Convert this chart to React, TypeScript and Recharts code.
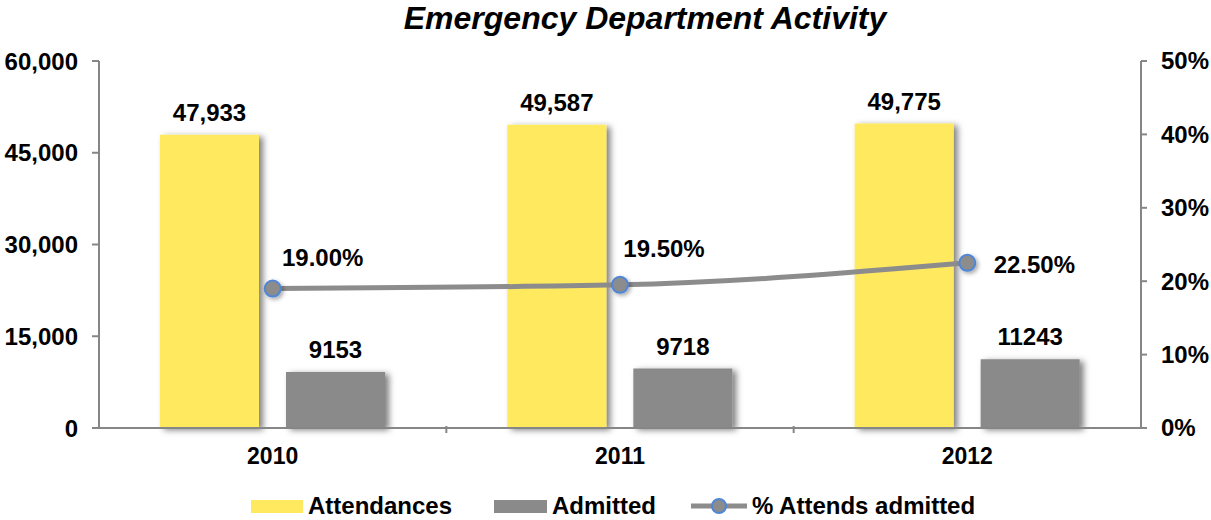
import React from 'react';
import { ComposedChart, Bar, Line, XAxis, YAxis, LabelList } from 'recharts';

const years = ['2010', '2011', '2012'];
const attendances = [47933, 49587, 49775];
const admitted = [9153, 9718, 11243];
const pctAdmitted = [19.0, 19.5, 22.5];
const leftTicks = [0, 15000, 30000, 45000, 60000];
const rightTicks = [0, 10, 20, 30, 40, 50];

const data = years.map((year, i) => ({
  year,
  attendances: attendances[i],
  admitted: admitted[i],
  pct: pctAdmitted[i],
}));

const FONT = '"Liberation Sans", Arial, sans-serif';
const AXIS_GREY = '#868686';
const YELLOW = '#ffe95f';
const BAR_GREY = '#8a8a8a';
const LINE_GREY = '#8c8c8c';
const DOT_BLUE = '#4f86d6';

const PLOT_LEFT = 99;
const PLOT_RIGHT = 1141;
const BAND = (PLOT_RIGHT - PLOT_LEFT) / years.length;

// where each % label sits relative to its point
const pctLabelShift = [
  { dx: 50, dy: -31 },
  { dx: 44, dy: -36 },
  { dx: 67, dy: 2 },
];

const YearTick = (props: any) => {
  const { x, y, payload, index } = props;
  return (
    <g>
      {index < years.length - 1 && (
        <line x1={x + BAND / 2} x2={x + BAND / 2} y1={y - 10} y2={y - 3} stroke={AXIS_GREY} strokeWidth={2} />
      )}
      <text x={x} y={y + 28} textAnchor="middle" fontFamily={FONT} fontWeight="bold" fontSize={23} fill="#000">
        {payload.value}
      </text>
    </g>
  );
};

const PctLabel = (props: any) => {
  const { x, y, value, index } = props;
  const s = pctLabelShift[index] || { dx: 0, dy: -20 };
  return (
    <text
      x={x + s.dx}
      y={y + s.dy}
      textAnchor="middle"
      dominantBaseline="central"
      fontFamily={FONT}
      fontWeight="bold"
      fontSize={24}
      fill="#000"
    >
      {Number(value).toFixed(2)}%
    </text>
  );
};

// right axis labels sit a little clear of the tick marks
const RightTick = (props: any) => {
  const { y, payload } = props;
  return (
    <text x={PLOT_RIGHT + 20} y={y} dy="0.35em" textAnchor="start" fontFamily={FONT} fontWeight="bold" fontSize={24} fill="#000">
      {payload.value}%
    </text>
  );
};

const LegendItem = ({ left, children, label }: { left: number; children: React.ReactNode; label: string }) => (
  <div style={{ position: 'absolute', left, top: 0, height: 30, display: 'flex', alignItems: 'center' }}>
    {children}
    <span style={{ marginLeft: 5 }}>{label}</span>
  </div>
);

export default function App() {
  const tickStyle = { fontFamily: FONT, fontWeight: 'bold' as const, fontSize: 24, fill: '#000' };
  const labelStyle = { fontFamily: FONT, fontWeight: 'bold', fontSize: 24, fill: '#000' };
  return (
    <div style={{ position: 'absolute', left: 0, top: 0, width: 1211, height: 520, background: '#fff', fontFamily: FONT }}>
      <div
        style={{
          position: 'absolute',
          top: 0,
          left: 0,
          width: 1290,
          textAlign: 'center',
          fontSize: 32,
          fontWeight: 'bold',
          fontStyle: 'italic',
          lineHeight: '36px',
        }}
      >
        Emergency Department Activity
      </div>
      <ComposedChart
        width={1211}
        height={520}
        data={data}
        margin={{ top: 61, right: 0, left: 0, bottom: 42 }}
        barSize={99}
        barGap={27}
      >
        <defs>
          <filter id="barShadow" x="-10%" y="-10%" width="130%" height="130%">
            <feDropShadow dx={4} dy={2} stdDeviation={3} floodColor="#000" floodOpacity={0.5} />
          </filter>
          <filter id="dotShadow" x="-50%" y="-50%" width="200%" height="200%">
            <feDropShadow dx={2} dy={2} stdDeviation={2} floodColor="#000" floodOpacity={0.35} />
          </filter>
        </defs>
        <XAxis
          dataKey="year"
          height={50}
          axisLine={{ stroke: AXIS_GREY, strokeWidth: 2 }}
          tickLine={false}
          tick={<YearTick />}
          interval={0}
        />
        <YAxis
          yAxisId="left"
          width={99}
          domain={[0, 60000]}
          ticks={leftTicks}
          tickFormatter={(v: number) => v.toLocaleString('en-US')}
          axisLine={{ stroke: AXIS_GREY, strokeWidth: 2 }}
          tickLine={{ stroke: AXIS_GREY, strokeWidth: 2 }}
          tickSize={7}
          tickMargin={14}
          tick={tickStyle}
        />
        <YAxis
          yAxisId="right"
          orientation="right"
          width={70}
          domain={[0, 50]}
          ticks={rightTicks}
          axisLine={{ stroke: AXIS_GREY, strokeWidth: 2 }}
          tickLine={{ stroke: AXIS_GREY, strokeWidth: 2 }}
          tickSize={6}
          tickMargin={0}
          tick={<RightTick />}
        />
        <Bar yAxisId="left" dataKey="attendances" fill={YELLOW} filter="url(#barShadow)" isAnimationActive={false}>
          <LabelList
            dataKey="attendances"
            position="top"
            offset={14}
            formatter={(v: any) => Number(v).toLocaleString('en-US')}
            style={labelStyle}
          />
        </Bar>
        <Bar yAxisId="left" dataKey="admitted" fill={BAR_GREY} filter="url(#barShadow)" isAnimationActive={false}>
          <LabelList dataKey="admitted" position="top" offset={14} style={labelStyle} />
        </Bar>
        <Line
          yAxisId="right"
          type="monotone"
          dataKey="pct"
          stroke={LINE_GREY}
          strokeWidth={5}
          dot={{ r: 8, fill: LINE_GREY, stroke: DOT_BLUE, strokeWidth: 2, filter: 'url(#dotShadow)' }}
          activeDot={false}
          isAnimationActive={false}
        >
          <LabelList dataKey="pct" content={<PctLabel />} />
        </Line>
      </ComposedChart>
      <div
        style={{
          position: 'absolute',
          top: 491,
          left: 0,
          width: 1211,
          height: 30,
          fontSize: 24,
          fontWeight: 'bold',
          lineHeight: '30px',
        }}
      >
        <LegendItem left={251} label="Attendances">
          <div style={{ width: 52, height: 13, background: YELLOW }} />
        </LegendItem>
        <LegendItem left={494} label="Admitted">
          <div style={{ width: 53, height: 13, background: BAR_GREY }} />
        </LegendItem>
        <LegendItem left={691} label="% Attends admitted">
          <svg width={56} height={20}>
            <line x1={0} x2={56} y1={10} y2={10} stroke={LINE_GREY} strokeWidth={5} />
            <circle cx={28} cy={10} r={7} fill={LINE_GREY} stroke={DOT_BLUE} strokeWidth={2} />
          </svg>
        </LegendItem>
      </div>
    </div>
  );
}
